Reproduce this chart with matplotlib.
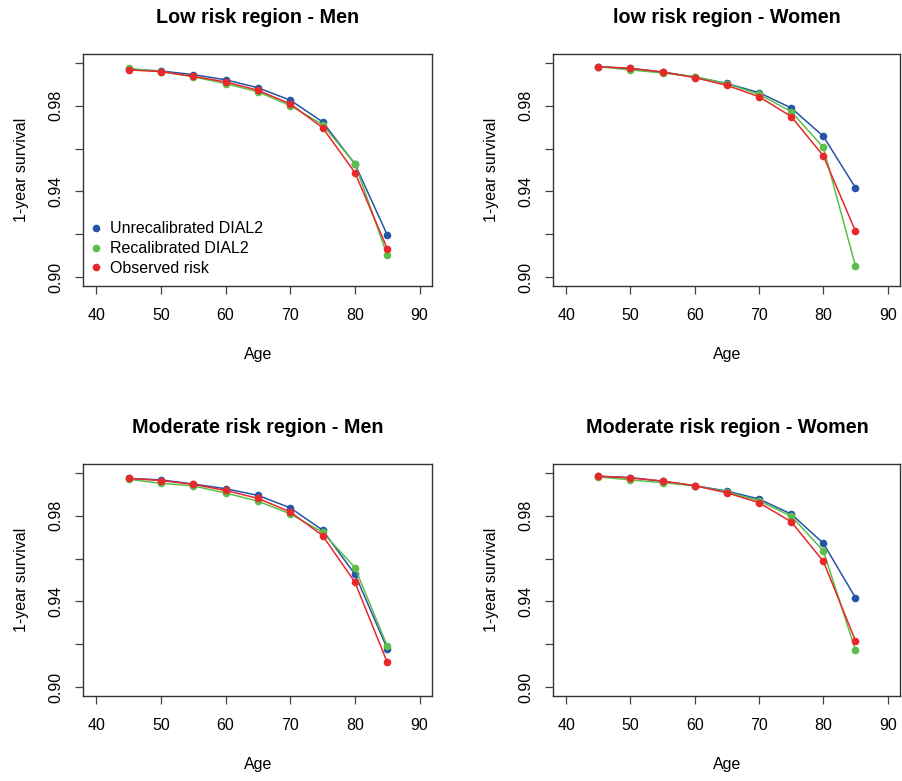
import matplotlib
matplotlib.use("Agg")
import matplotlib.pyplot as plt
from matplotlib.lines import Line2D

plt.rcParams["font.family"] = ["Liberation Sans", "DejaVu Sans"]

ages = [45, 50, 55, 60, 65, 70, 75, 80, 85]

series_names = ["Unrecalibrated DIAL2", "Recalibrated DIAL2", "Observed risk"]
series_colors = ["#2455a7", "#5cbf4b", "#e8282b"]

titles = [
    "Low risk region - Men",
    "low risk region - Women",
    "Moderate risk region - Men",
    "Moderate risk region - Women",
]

# 1-year survival per age group
low_men_unrecal = [0.9969, 0.9961, 0.9944, 0.9920, 0.9883, 0.9825, 0.9724, 0.9528, 0.9198]
low_men_recal = [0.9973, 0.9958, 0.9934, 0.9902, 0.9864, 0.9800, 0.9711, 0.9530, 0.9103]
low_men_obs = [0.9966, 0.9958, 0.9936, 0.9910, 0.9871, 0.9808, 0.9697, 0.9488, 0.9134]

low_women_unrecal = [0.9981, 0.9973, 0.9956, 0.9933, 0.9903, 0.9860, 0.9789, 0.9657, 0.9417]
low_women_recal = [0.9981, 0.9966, 0.9952, 0.9934, 0.9902, 0.9852, 0.9772, 0.9605, 0.9053]
low_women_obs = [0.9981, 0.9973, 0.9956, 0.9930, 0.9894, 0.9841, 0.9749, 0.9566, 0.9215]

mod_men_unrecal = [0.9973, 0.9966, 0.9947, 0.9925, 0.9894, 0.9836, 0.9732, 0.9527, 0.9181]
mod_men_recal = [0.9969, 0.9950, 0.9938, 0.9905, 0.9867, 0.9808, 0.9722, 0.9558, 0.9193]
mod_men_obs = [0.9973, 0.9963, 0.9945, 0.9917, 0.9880, 0.9817, 0.9707, 0.9490, 0.9117]

mod_women_unrecal = [0.9983, 0.9977, 0.9959, 0.9939, 0.9914, 0.9877, 0.9807, 0.9671, 0.9417]
mod_women_recal = [0.9980, 0.9966, 0.9953, 0.9939, 0.9910, 0.9869, 0.9797, 0.9636, 0.9173]
mod_women_obs = [0.9983, 0.9975, 0.9961, 0.9939, 0.9906, 0.9860, 0.9771, 0.9587, 0.9217]

panels = [
    [low_men_unrecal, low_men_recal, low_men_obs],
    [low_women_unrecal, low_women_recal, low_women_obs],
    [mod_men_unrecal, mod_men_recal, mod_men_obs],
    [mod_women_unrecal, mod_women_recal, mod_women_obs],
]

x_ticks = [40, 50, 60, 70, 80, 90]
y_ticks = [0.90, 0.92, 0.94, 0.96, 0.98, 1.00]
y_ticklabels = ["0.90", "", "0.94", "", "0.98", ""]

W, H = 903, 781
fig = plt.figure(figsize=(W / 100, H / 100), dpi=100)

# panel boxes in pixels: (left, top, right, bottom)
boxes = [
    (83.3, 54, 432.5, 286),
    (553.3, 54, 900.5, 286),
    (83.3, 464, 432.5, 696),
    (553.3, 464, 900.5, 696),
]

tick_fs = 11.5
msize = 5.5
for i, (box, data, title) in enumerate(zip(boxes, panels, titles)):
    l, t, r, b = box
    ax = fig.add_axes([l / W, 1 - b / H, (r - l) / W, (b - t) / H])
    for vals, col in zip(data, series_colors):
        ax.plot(ages, vals, color=col, lw=1.1, marker="o", ms=msize,
                markeredgewidth=0, solid_joinstyle="round")
    ax.set_xlim(38, 92)
    ax.set_ylim(0.896, 1.004)
    ax.set_xticks(x_ticks)
    ax.set_yticks(y_ticks)
    ax.set_yticklabels(y_ticklabels, rotation=90, va="center")
    ax.tick_params(axis="both", direction="out", length=6, width=0.9,
                   color="#444444", labelsize=tick_fs, pad=8)
    ax.tick_params(axis="x", pad=10)
    for s in ax.spines.values():
        s.set_color("#333333")
        s.set_linewidth(1.0)
    ax.set_title(title, fontsize=14.2, fontweight="bold", pad=22)
    ax.set_xlabel("Age", fontsize=tick_fs, labelpad=17)
    ax.set_ylabel("1-year survival", fontsize=tick_fs, labelpad=14)

    if i == 0:
        handles = [Line2D([], [], ls="none", marker="o", ms=msize, color=c,
                          markeredgewidth=0) for c in series_colors]
        ax.legend(handles, series_names, loc="upper left",
                  bbox_to_anchor=(0.0, 0.313), frameon=False,
                  fontsize=tick_fs, handlelength=0.6, handletextpad=0.6,
                  labelspacing=0.3, borderpad=0.3, borderaxespad=0.2)

fig.savefig("out.png", dpi=100)
